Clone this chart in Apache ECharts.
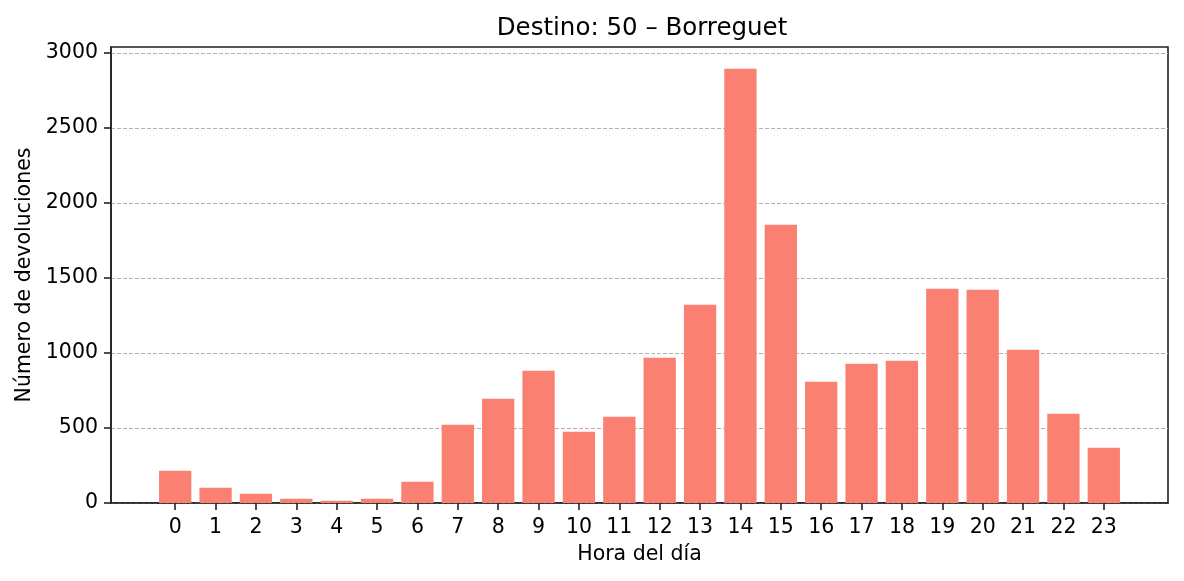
<!DOCTYPE html>
<html>
<head>
<meta charset="utf-8">
<script src="https://cdn.jsdelivr.net/npm/echarts@6/dist/echarts.min.js"></script>
<style>
html,body{margin:0;padding:0;background:#fff;}
#chart{width:1184px;height:581px;}
</style>
</head>
<body>
<div id="chart"></div>
<script>
const hours = [0,1,2,3,4,5,6,7,8,9,10,11,12,13,14,15,16,17,18,19,20,21,22,23];
const devoluciones = [215,102,62,29,15,29,142,522,695,882,475,575,969,1322,2895,1855,809,929,949,1429,1422,1022,595,369];
const yTicks = [0,500,1000,1500,2000,2500,3000];
const titleText = 'Destino: 50 \u2013 Borreguet';
const xName = 'Hora del día';
const yName = 'Número de devoluciones';

const font = 'DejaVu Sans';
const ink = '#222';
const chart = echarts.init(document.getElementById('chart'), null, {renderer:'canvas'});
chart.setOption({
  animation:false,
  backgroundColor:'#ffffff',
  title:{
    text:titleText, left:637, top:11, textAlign:'center',
    textStyle:{fontFamily:font,fontSize:24.5,fontWeight:'normal',color:'#000'}
  },
  grid:{left:111,right:16,top:47,bottom:78,show:true,borderColor:ink,borderWidth:1.6,backgroundColor:'transparent'},
  xAxis:{
    type:'value', min:-1.59, max:24.59,
    name:xName, nameLocation:'middle', nameGap:41,
    nameTextStyle:{fontFamily:font,fontSize:20.5,color:'#000'},
    axisLine:{show:true,onZero:false,lineStyle:{color:ink,width:1.6}},
    axisTick:{show:true,length:7,customValues:hours,lineStyle:{color:ink,width:1.6}},
    axisLabel:{customValues:hours,fontFamily:font,fontSize:20.5,color:'#000',margin:14},
    splitLine:{show:false}
  },
  yAxis:{
    type:'value', min:0, max:3040, interval:500,
    name:yName, nameLocation:'middle', nameGap:76, nameRotate:90,
    nameTextStyle:{fontFamily:font,fontSize:20.5,color:'#000'},
    axisLine:{show:true,onZero:false,lineStyle:{color:ink,width:1.6}},
    axisTick:{show:true,length:7,customValues:yTicks,lineStyle:{color:ink,width:1.6}},
    axisLabel:{customValues:yTicks,fontFamily:font,fontSize:20.5,color:'#000',margin:13,formatter:v=>String(v)},
    splitLine:{show:true,lineStyle:{color:'#b0b0b0',width:1,type:[4,2]}}
  },
  series:[{
    type:'bar',
    data:hours.map((h,i)=>[h,devoluciones[i]]),
    barWidth:32.3,
    itemStyle:{color:'#FA8072'},
    z:1
  }]
});
</script>
</body>
</html>
